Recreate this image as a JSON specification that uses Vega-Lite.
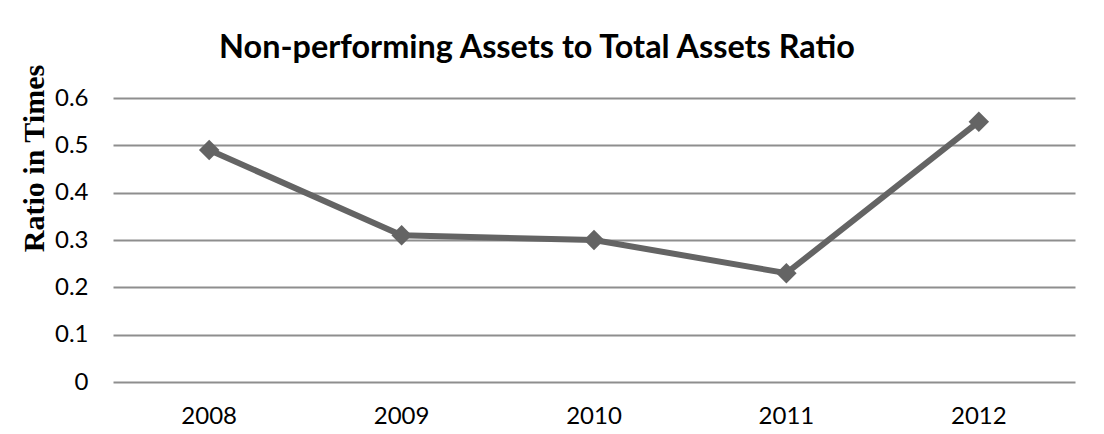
{
  "$schema": "https://vega.github.io/schema/vega-lite/v6.json",
  "width": 962,
  "height": 284,
  "autosize": "none",
  "padding": {"left": 113, "top": 98, "right": 29, "bottom": 52},
  "background": "white",
  "title": {
    "text": "Non-performing Assets to Total Assets Ratio",
    "font": "Lato",
    "fontSize": 32.4,
    "fontWeight": "bold",
    "color": "#000000",
    "anchor": "middle",
    "dx": -57,
    "baseline": "alphabetic",
    "offset": -26
  },
  "data": {
    "values": [
      {"year": "2008", "ratio": 0.49},
      {"year": "2009", "ratio": 0.31},
      {"year": "2010", "ratio": 0.30},
      {"year": "2011", "ratio": 0.23},
      {"year": "2012", "ratio": 0.55}
    ]
  },
  "mark": {
    "type": "line",
    "color": "#646464",
    "strokeWidth": 6,
    "point": {"shape": "diamond", "size": 420, "filled": true, "color": "#646464", "opacity": 1}
  },
  "encoding": {
    "x": {
      "field": "year",
      "type": "ordinal",
      "scale": {"type": "band", "paddingInner": 0, "paddingOuter": 0},
      "axis": {
        "title": null,
        "labelAngle": 0,
        "labelFont": "Lato",
        "labelFontSize": 24,
        "labelColor": "#000000",
        "labelPadding": 22,
        "ticks": false,
        "domain": false,
        "grid": false
      }
    },
    "y": {
      "field": "ratio",
      "type": "quantitative",
      "scale": {"domain": [0, 0.6], "nice": false},
      "axis": {
        "title": "Ratio in Times",
        "titleFont": "Liberation Serif",
        "titleFontSize": 30,
        "titleFontWeight": "bold",
        "titleColor": "#000000",
        "titleAngle": -90,
        "titleX": -79,
        "titleY": 60,
        "titleAlign": "center",
        "titleBaseline": "middle",
        "values": [0, 0.1, 0.2, 0.3, 0.4, 0.5, 0.6],
        "format": "~g",
        "labelFont": "Lato",
        "labelFontSize": 24,
        "labelColor": "#000000",
        "labelPadding": 25,
        "ticks": false,
        "domain": false,
        "grid": true,
        "gridColor": "#8e8e8e",
        "gridWidth": 2
      }
    }
  },
  "config": {
    "view": {"stroke": null}
  }
}
